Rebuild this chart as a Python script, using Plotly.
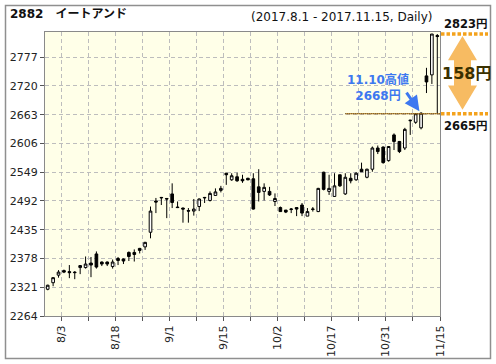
import plotly.graph_objects as go

# ---------------- data ----------------
dates = ["8/1", "8/2", "8/3", "8/4", "8/7", "8/8", "8/9", "8/10", "8/14", "8/15",
         "8/16", "8/17", "8/18", "8/21", "8/22", "8/23", "8/24", "8/25", "8/28", "8/29",
         "8/30", "8/31", "9/1", "9/4", "9/5", "9/6", "9/7", "9/8", "9/11", "9/12",
         "9/13", "9/14", "9/15", "9/19", "9/20", "9/21", "9/22", "9/25", "9/26", "9/27",
         "9/28", "9/29", "10/2", "10/3", "10/4", "10/5", "10/6", "10/10", "10/11", "10/12",
         "10/13", "10/16", "10/17", "10/18", "10/19", "10/20", "10/23", "10/24", "10/25", "10/26",
         "10/27", "10/30", "10/31", "11/1", "11/2", "11/6", "11/7", "11/8", "11/9", "11/10",
         "11/13", "11/14", "11/15"]

opens = [2317, 2330, 2345, 2354, 2352, 2351, 2360, 2360, 2369, 2387,
         2371, 2371, 2362, 2378, 2377, 2390, 2390, 2398, 2401, 2430,
         2492, 2498, 2497, 2506, 2480, 2478, 2473, 2472, 2481, 2498,
         2493, 2503, 2513, 2547, 2534, 2540, 2535, 2537, 2536, 2520,
         2511, 2511, 2491, 2479, 2474, 2475, 2479, 2484, 2462, 2475,
         2471, 2549, 2511, 2501, 2544, 2506, 2537, 2534, 2555, 2539,
         2555, 2597, 2599, 2572, 2623, 2610, 2597, 2651, 2648, 2637,
         2740, 2742, 2820]
highs = [2326, 2341, 2355, 2356, 2365, 2353, 2365, 2382, 2381, 2392,
         2372, 2372, 2376, 2381, 2378, 2392, 2396, 2399, 2411, 2481,
         2498, 2500, 2498, 2527, 2491, 2479, 2478, 2496, 2497, 2500,
         2511, 2517, 2522, 2548, 2547, 2548, 2544, 2538, 2547, 2555,
         2527, 2520, 2507, 2481, 2474, 2478, 2479, 2488, 2478, 2480,
         2518, 2550, 2544, 2547, 2544, 2547, 2547, 2549, 2568, 2556,
         2600, 2602, 2600, 2601, 2626, 2611, 2637, 2653, 2666, 2668,
         2756, 2823, 2823]
lows = [2315, 2323, 2340, 2349, 2339, 2337, 2347, 2358, 2341, 2358,
        2363, 2363, 2358, 2365, 2367, 2373, 2372, 2388, 2395, 2418,
        2468, 2484, 2458, 2478, 2478, 2449, 2449, 2463, 2472, 2488,
        2491, 2503, 2509, 2524, 2532, 2530, 2528, 2533, 2475, 2491,
        2493, 2502, 2482, 2471, 2468, 2468, 2462, 2462, 2462, 2471,
        2470, 2513, 2504, 2500, 2520, 2504, 2527, 2532, 2550, 2537,
        2550, 2585, 2566, 2570, 2593, 2587, 2593, 2623, 2645, 2634,
        2706, 2724, 2665]
closes = [2325, 2340, 2351, 2351, 2350, 2350, 2364, 2367, 2365, 2361,
          2367, 2367, 2371, 2374, 2373, 2382, 2386, 2394, 2410, 2472,
          2490, 2499, 2496, 2489, 2479, 2476, 2472, 2476, 2496, 2499,
          2507, 2510, 2517, 2544, 2542, 2532, 2532, 2534, 2476, 2509,
          2519, 2504, 2497, 2471, 2470, 2476, 2476, 2468, 2471, 2476,
          2517, 2515, 2517, 2522, 2522, 2539, 2532, 2547, 2550, 2555,
          2597, 2590, 2568, 2600, 2610, 2590, 2634, 2652, 2665, 2666,
          2728, 2823, 2818]

y_ticks = [2264, 2321, 2378, 2435, 2492, 2549, 2606, 2663, 2720, 2777]
x_tick_labels = ["8/3", "8/18", "9/1", "9/15", "10/2", "10/17", "10/31", "11/15"]
title_code = "2882"
title_name = "イートアンド"
period_text = "(2017.8.1 - 2017.11.15, Daily)"
hi_date_label = "11.10"
hi_value = 2668
range_top = 2823
range_bottom = 2665

# ---------------- layout constants ----------------
W, H = 496, 364
L, R, T, B = 45, 56, 32, 48
PW, PH = W - L - R, H - T - B


def px(x):
    return (x - L) / PW


def py(y):
    return (T + PH - y) / PH


xs = list(range(len(dates)))
grid_idx = list(range(2, len(dates), 5))
tickvals = [i + 0.5 for i in grid_idx]
ticktext = [dates[i] if dates[i] in x_tick_labels else "" for i in grid_idx]

FONT = "DejaVu Sans, Verdana, Noto Sans CJK JP, sans-serif"
ORANGE = "#F4A21C"
BLUE = "#3D78F0"

fig = go.Figure()
fig.add_trace(go.Candlestick(
    x=xs, open=opens, high=highs, low=lows, close=closes,
    increasing=dict(line=dict(color="black", width=1), fillcolor="white"),
    decreasing=dict(line=dict(color="black", width=1), fillcolor="black"),
    whiskerwidth=0, hoverinfo="skip", showlegend=False,
))

axis_common = dict(
    showgrid=True, gridcolor="#BDBDBD", griddash="4px,3px", gridwidth=1,
    showline=True, linecolor="#8A8A8A", linewidth=1, mirror=True,
    ticks="outside", ticklen=4, tickcolor="#555",
    tickfont=dict(family=FONT, size=11, color="#222"),
    zeroline=False, fixedrange=True, automargin=False,
)

fig.update_layout(
    width=W, height=H,
    margin=dict(l=L, r=R, t=T, b=B, pad=0),
    paper_bgcolor="white", plot_bgcolor="#FFFFE8",
    showlegend=False,
    xaxis=dict(range=[-0.5, len(dates) - 0.5], tickmode="array",
               tickvals=tickvals, ticktext=ticktext, tickangle=-90,
               rangeslider=dict(visible=False), **axis_common),
    yaxis=dict(range=[2264, 2827], tickmode="array", tickvals=y_ticks,
               ticktext=[str(v) for v in y_ticks], **axis_common),
)

shapes = []
# outer frame
shapes.append(dict(type="rect", xref="paper", yref="paper",
                   x0=px(5.5), x1=px(490.5), y0=py(358.5), y1=py(5.5),
                   line=dict(color="#8F8F8F", width=1.5), fillcolor="rgba(0,0,0,0)",
                   layer="above"))
# dotted line at range bottom inside the plot
shapes.append(dict(type="line", xref="x", yref="y", x0=55, x1=len(dates) - 0.5,
                   y0=range_bottom, y1=range_bottom,
                   line=dict(color=ORANGE, width=1), layer="above"))
shapes.append(dict(type="line", xref="x", yref="y", x0=55, x1=len(dates) - 0.5,
                   y0=range_bottom, y1=range_bottom,
                   line=dict(color="#222", width=1, dash="1px,1px"), layer="above"))
# orange dotted lines on right
for v in (range_top, range_bottom):
    shapes.append(dict(type="line", xref="paper", yref="y", x0=px(441), x1=px(488),
                       y0=v, y1=v, line=dict(color=ORANGE, width=3.5, dash="3.5px,2px")))
# orange double arrow
cx = 462.5
hw, sw = 14.5, 8.5
head = 48
top_a = range_top - 4
bot_a = range_bottom + 8
path = (f"M {px(cx)},{top_a} L {px(cx + hw)},{top_a - head} L {px(cx + sw)},{top_a - head} "
        f"L {px(cx + sw)},{bot_a + head} L {px(cx + hw)},{bot_a + head} L {px(cx)},{bot_a} "
        f"L {px(cx - hw)},{bot_a + head} L {px(cx - sw)},{bot_a + head} "
        f"L {px(cx - sw)},{top_a - head} L {px(cx - hw)},{top_a - head} Z")
shapes.append(dict(type="path", xref="paper", yref="y", path=path,
                   fillcolor="#F7BB62", line=dict(width=0)))
fig.update_layout(shapes=shapes)

ann = []
ann.append(dict(xref="paper", yref="paper", x=px(8), y=py(14), xanchor="left", yanchor="middle",
                text=f"<b>{title_code}　{title_name}</b>", showarrow=False,
                font=dict(family=FONT, size=12, color="#111")))
ann.append(dict(xref="paper", yref="paper", x=px(434), y=py(17), xanchor="right", yanchor="middle",
                text=period_text, showarrow=False,
                font=dict(family=FONT, size=12, color="#111")))
ann.append(dict(xref="paper", yref="y", x=px(466), y=range_top, xanchor="center", yanchor="bottom",
                yshift=1, text=f"<b>{range_top}円</b>", showarrow=False,
                font=dict(family=FONT, size=11.5, color="#111")))
ann.append(dict(xref="paper", yref="y", x=px(466), y=range_bottom, xanchor="center", yanchor="top",
                yshift=-3, text=f"<b>{range_bottom}円</b>", showarrow=False,
                font=dict(family=FONT, size=11.5, color="#111")))
ann.append(dict(xref="paper", yref="y", x=px(466.5), y=(range_top + range_bottom) / 2,
                xanchor="center", yanchor="middle",
                text=f"<b>{range_top - range_bottom}円</b>", showarrow=False,
                font=dict(family=FONT, size=16, color="#3A3000")))
# blue annotation
ann.append(dict(xref="x", yref="y", x=61, y=2717, xanchor="center", yanchor="middle",
                text=f"<b>{hi_date_label}高値<br>{hi_value}円</b>", showarrow=False,
                font=dict(family=FONT, size=12, color=BLUE)))
ann.append(dict(xref="x", yref="y", x=68.7, y=hi_value + 2, ax=-14, ay=-20,
                axref="pixel", ayref="pixel", text="", showarrow=True,
                arrowhead=2, arrowsize=1, arrowwidth=3, arrowcolor=BLUE))
fig.update_layout(annotations=ann)

fig.write_html("out.html",
               config={"displayModeBar": False, "staticPlot": True},
               post_script="document.body.style.margin='0px';document.body.style.padding='0px';"
                           "document.body.style.overflow='hidden';")
